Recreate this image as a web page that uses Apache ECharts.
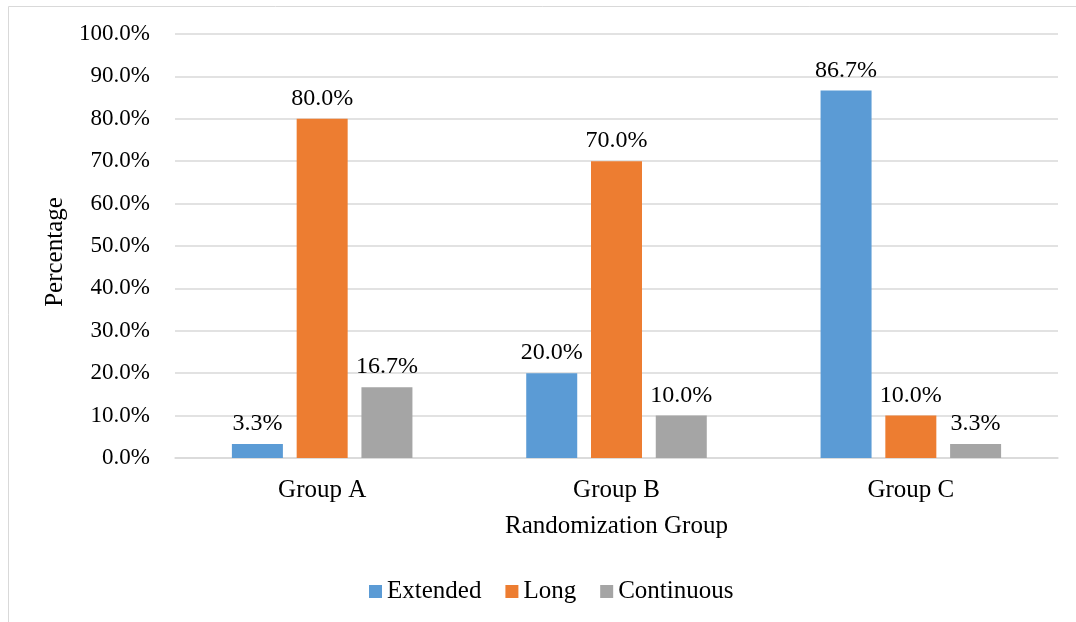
<!DOCTYPE html>
<html>
<head>
<meta charset="utf-8">
<script src="https://cdn.jsdelivr.net/npm/echarts@6/dist/echarts.min.js"></script>
<style>
  html, body { margin: 0; padding: 0; background: #fff; }
  #chart { width: 1076px; height: 622px; }
</style>
</head>
<body>
<div id="chart"></div>
<script>
// Share of each cycle type within every randomization group (percent)
const groups = ['Group A', 'Group B', 'Group C'];
const extended = [3.3, 20.0, 86.7];
const long = [80.0, 70.0, 10.0];
const continuous = [16.7, 10.0, 3.3];
const seriesNames = ['Extended', 'Long', 'Continuous'];
const seriesColors = ['#5b9bd5', '#ed7d31', '#a5a5a5'];

const FONT = '"Liberation Serif", "Times New Roman", serif';

const chart = echarts.init(document.getElementById('chart'), null, { renderer: 'canvas' });

function barSeries(name, values, color) {
  return {
    name: name,
    type: 'bar',
    data: values,
    barWidth: 51,
    barGap: '27%',
    itemStyle: { color: color },
    label: {
      show: true,
      position: 'top',
      distance: 8,
      formatter: p => p.value.toFixed(1) + '%',
      fontFamily: FONT,
      fontSize: 24,
      color: '#000'
    }
  };
}

chart.setOption({
  backgroundColor: '#fff',
  animation: false,
  textStyle: { fontFamily: FONT },
  graphic: [
    { type: 'line', shape: { x1: 8.5, y1: 6.5, x2: 1076, y2: 6.5 }, style: { stroke: '#d9d9d9', lineWidth: 1 } },
    { type: 'line', shape: { x1: 8.5, y1: 6.5, x2: 8.5, y2: 622 }, style: { stroke: '#d9d9d9', lineWidth: 1 } }
  ],
  grid: { left: 175, right: 18, top: 34, bottom: 164, containLabel: false },
  legend: {
    bottom: 13,
    left: 364,
    itemWidth: 13,
    itemHeight: 13,
    itemGap: 24,
    icon: 'rect',
    textStyle: { fontFamily: FONT, fontSize: 25, color: '#000' },
    data: seriesNames
  },
  xAxis: {
    type: 'category',
    data: groups,
    name: 'Randomization Group',
    nameLocation: 'middle',
    nameGap: 56,
    nameTextStyle: { fontFamily: FONT, fontSize: 25, color: '#000' },
    axisLine: { lineStyle: { color: '#d9d9d9', width: 1.5 } },
    axisTick: { show: false },
    axisLabel: { fontFamily: FONT, fontSize: 25, color: '#000', margin: 20 }
  },
  yAxis: {
    type: 'value',
    min: 0,
    max: 100,
    interval: 10,
    name: 'Percentage',
    nameLocation: 'middle',
    nameGap: 102,
    nameTextStyle: { fontFamily: FONT, fontSize: 25, color: '#000', padding: [0, 12, 0, 0] },
    axisLine: { show: false },
    axisTick: { show: false },
    axisLabel: {
      fontFamily: FONT,
      fontSize: 23,
      color: '#000',
      margin: 25,
      formatter: v => v.toFixed(1) + '%'
    },
    splitLine: { lineStyle: { color: '#d9d9d9', width: 1.5 } }
  },
  series: [
    barSeries(seriesNames[0], extended, seriesColors[0]),
    barSeries(seriesNames[1], long, seriesColors[1]),
    barSeries(seriesNames[2], continuous, seriesColors[2])
  ]
});
</script>
</body>
</html>
